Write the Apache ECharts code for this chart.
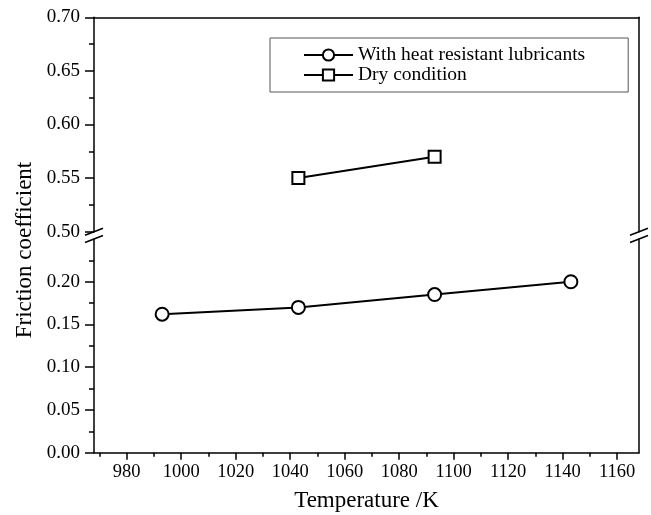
<!DOCTYPE html>
<html>
<head>
<meta charset="utf-8">
<script src="https://cdn.jsdelivr.net/npm/echarts@6/dist/echarts.min.js"></script>
<style>html,body{margin:0;padding:0;background:#fff}#c{width:651px;height:515px}</style>
</head>
<body>
<div id="c"></div>
<script>
// ---- data ----
const temperatures = [993, 1043, 1093, 1143];
const lubricated = [0.162, 0.17, 0.185, 0.2];
const dryTemps = [1043, 1093];
const dry = [0.55, 0.57];
const xMajorTicks = [980, 1000, 1020, 1040, 1060, 1080, 1100, 1120, 1140, 1160];
const xMinorTicks = [970, 990, 1010, 1030, 1050, 1070, 1090, 1110, 1130, 1150];
const yLowerTicks = [0, 0.05, 0.10, 0.15, 0.20];
const seriesNames = ['With heat resistant lubricants', 'Dry condition'];

const FONT = 'Liberation Serif, Times New Roman, serif';
const X_MIN = 968, X_MAX = 1168;
const axisLineStyle = { color: '#000', width: 1.5 };

const chart = echarts.init(document.getElementById('c'));
const option = {
  animation: false,
  backgroundColor: '#fff',
  textStyle: { fontFamily: FONT, color: '#000' },
  grid: [
    { left: 94, right: 12, top: 17.3, bottom: 283.3 },
    { left: 94, right: 12, top: 239, bottom: 62.3 }
  ],
  legend: {
    orient: 'vertical',
    left: 270, top: 38,
    padding: [7, 43, 7, 33],
    itemWidth: 49, itemHeight: 14, itemGap: 0,
    borderColor: '#555', borderWidth: 1,
    selectedMode: false,
    textStyle: { fontFamily: FONT, fontSize: 19.5, lineHeight: 20, color: '#000' },
    data: seriesNames
  },
  xAxis: [
    {
      gridIndex: 1, type: 'value', min: X_MIN, max: X_MAX, position: 'bottom',
      axisLine: { show: true, onZero: false, lineStyle: axisLineStyle },
      axisTick: { show: true, customValues: xMajorTicks, length: 7, lineStyle: { color: '#000', width: 1.5 } },
      axisLabel: { customValues: xMajorTicks, fontFamily: FONT, fontSize: 18.5, color: '#000', margin: 10, formatter: v => String(v) },
      splitLine: { show: false },
      name: 'Temperature /K', nameLocation: 'middle', nameGap: 37,
      nameTextStyle: { fontFamily: FONT, fontSize: 23, color: '#000' }
    },
    {
      gridIndex: 1, type: 'value', min: X_MIN, max: X_MAX, position: 'bottom',
      axisLine: { show: false, onZero: false },
      axisTick: { show: true, customValues: xMinorTicks, length: 4, lineStyle: { color: '#000', width: 1.5 } },
      axisLabel: { show: false },
      splitLine: { show: false }
    },
    {
      gridIndex: 0, type: 'value', min: X_MIN, max: X_MAX, position: 'top',
      axisLine: { show: true, onZero: false, lineStyle: axisLineStyle },
      axisTick: { show: false }, axisLabel: { show: false }, splitLine: { show: false }
    }
  ],
  yAxis: [
    {
      gridIndex: 0, type: 'value', min: 0.5, max: 0.7, interval: 0.05, position: 'left',
      axisLine: { show: true, onZero: false, lineStyle: axisLineStyle },
      axisTick: { show: true, length: 9, lineStyle: { color: '#000', width: 1.5 } },
      minorTick: { show: true, splitNumber: 2, length: 5, lineStyle: { color: '#000', width: 1.5 } },
      axisLabel: { fontFamily: FONT, fontSize: 19, color: '#000', margin: 14, formatter: v => v.toFixed(2) },
      splitLine: { show: false }
    },
    {
      gridIndex: 1, type: 'value', min: 0, max: 0.25, interval: 0.05, position: 'left',
      axisLine: { show: true, onZero: false, lineStyle: axisLineStyle },
      axisTick: { show: true, customValues: yLowerTicks, length: 9, lineStyle: { color: '#000', width: 1.5 } },
      minorTick: { show: true, splitNumber: 2, length: 5, lineStyle: { color: '#000', width: 1.5 } },
      axisLabel: { customValues: yLowerTicks, fontFamily: FONT, fontSize: 19, color: '#000', margin: 14, formatter: v => v.toFixed(2) },
      splitLine: { show: false }
    },
    {
      gridIndex: 0, type: 'value', min: 0.5, max: 0.7, position: 'right',
      axisLine: { show: true, onZero: false, lineStyle: axisLineStyle },
      axisTick: { show: false }, axisLabel: { show: false }, splitLine: { show: false }
    },
    {
      gridIndex: 1, type: 'value', min: 0, max: 0.25, position: 'right',
      axisLine: { show: true, onZero: false, lineStyle: axisLineStyle },
      axisTick: { show: false }, axisLabel: { show: false }, splitLine: { show: false }
    }
  ],
  series: [
    {
      name: seriesNames[0], type: 'line', xAxisIndex: 0, yAxisIndex: 1,
      data: temperatures.map((t, i) => [t, lubricated[i]]),
      symbol: 'circle', symbolSize: 13,
      lineStyle: { color: '#000', width: 2 },
      itemStyle: { color: '#fff', borderColor: '#000', borderWidth: 2 },
      z: 3
    },
    {
      name: seriesNames[1], type: 'line', xAxisIndex: 2, yAxisIndex: 0,
      data: dryTemps.map((t, i) => [t, dry[i]]),
      symbol: 'rect', symbolSize: 12,
      lineStyle: { color: '#000', width: 2 },
      itemStyle: { color: '#fff', borderColor: '#000', borderWidth: 2 },
      z: 3
    }
  ]
};
chart.setOption(option);

// axis-break marks and y-axis title
const yUp = chart.convertToPixel({ yAxisIndex: 0 }, 0.5);
const yLo = chart.convertToPixel({ yAxisIndex: 1 }, 0.25);
const xL = chart.convertToPixel({ xAxisIndex: 0 }, X_MIN);
const xR = chart.convertToPixel({ xAxisIndex: 0 }, X_MAX);
const brk = [];
[xL, xR].forEach(x => {
  [yUp, yLo].forEach(y => {
    brk.push({
      type: 'line', silent: true, z: 10,
      shape: { x1: x - 9, y1: y + 3.5, x2: x + 9, y2: y - 3.5 },
      style: { stroke: '#000', lineWidth: 1.5 }
    });
  });
});
brk.push({
  type: 'text', silent: true, x: 25, y: 250, rotation: Math.PI / 2,
  style: { text: 'Friction coefficient', font: '23px ' + FONT, fill: '#000', align: 'center', verticalAlign: 'middle' }
});
chart.setOption({ graphic: brk });
</script>
</body>
</html>
